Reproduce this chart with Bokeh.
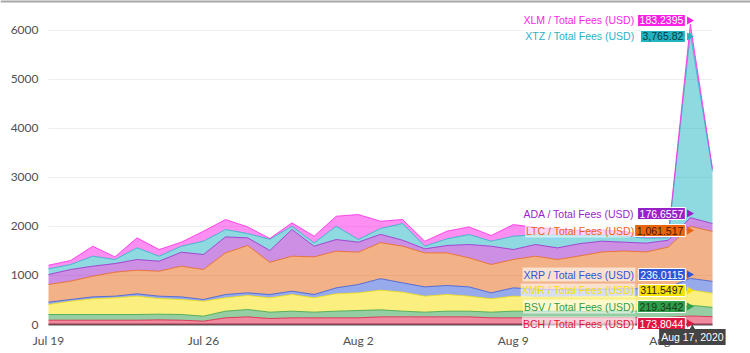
import math
from bokeh.plotting import figure
from bokeh.models import ColumnDataSource, Label, Span, Range1d
from bokeh.embed import file_html
from bokeh.resources import INLINE
from bokeh.core.properties import value

# ---------------- data ----------------
dates = ["Jul 19", "Jul 20", "Jul 21", "Jul 22", "Jul 23", "Jul 24", "Jul 25", "Jul 26",
         "Jul 27", "Jul 28", "Jul 29", "Jul 30", "Jul 31", "Aug 1", "Aug 2", "Aug 3",
         "Aug 4", "Aug 5", "Aug 6", "Aug 7", "Aug 8", "Aug 9", "Aug 10", "Aug 11",
         "Aug 12", "Aug 13", "Aug 14", "Aug 15", "Aug 16", "Aug 17", "Aug 18"]
tick_days = [0, 7, 14, 21, 28]
tick_labels = ["Jul 19", "Jul 26", "Aug 2", "Aug 9", "Aug 16"]
y_ticks = [0, 1000, 2000, 3000, 4000, 5000, 6000]
y_tick_labels = ["0", "1000", "2000", "3000", "4000", "5000", "6000"]

bch = [88, 88, 88, 88, 88, 95, 88, 68, 136, 156, 122, 136, 136, 136, 136, 156,
       156, 156, 156, 156, 136, 136, 140, 140, 140, 140, 140, 140, 145, 173.8044, 160]
bsv = [116, 116, 116, 116, 116, 116, 116, 102, 136, 150, 130, 136, 116, 136, 150, 144,
       116, 96, 116, 116, 116, 136, 130, 130, 130, 130, 135, 135, 145, 219.3442, 190]
xmr = [204, 272, 320, 340, 374, 319, 306, 306, 272, 286, 292, 340, 292, 354, 360, 400,
       388, 326, 340, 306, 272, 306, 290, 290, 300, 300, 305, 305, 310, 311.5497, 290]
xrp = [48, 34, 40, 34, 48, 48, 54, 34, 68, 54, 68, 68, 68, 122, 170, 235,
       190, 190, 184, 190, 122, 170, 160, 150, 150, 150, 150, 150, 160, 236.0115, 240]
ltc = [360, 374, 422, 490, 482, 510, 626, 612, 850, 966, 658, 714, 768, 748, 660, 735,
       748, 694, 666, 592, 578, 578, 674, 616, 680, 760, 770, 750, 820, 1061.517, 1020]
ada = [204, 238, 204, 176, 218, 204, 286, 306, 326, 156, 240, 544, 218, 238, 204, 170,
       122, 82, 150, 272, 374, 204, 238, 238, 250, 220, 180, 180, 140, 176.6557, 160]
xtz = [116, 102, 204, 82, 238, 102, 122, 272, 150, 88, 230, 68, 68, 272, 54, 120,
       340, 54, 136, 204, 102, 272, 198, 256, 160, 120, 120, 100, 50, 3765.82, 1070]
xlm = [74, 82, 204, 54, 204, 136, 82, 204, 204, 136, 15, 68, 136, 204, 510, 148,
       82, 102, 156, 156, 116, 238, 150, 130, 110, 110, 100, 60, 40, 183.2395, 50]

series_names = ["BCH", "BSV", "XMR", "XRP", "LTC", "ADA", "XTZ", "XLM"]
series_colors = ["#e0153f", "#2e9e48", "#f5e000", "#2f56d8",
                 "#e8640f", "#9b1fc9", "#1fb3c4", "#fb1ee6"]
value_text_colors = ["white", "#1a3a1a", "#222222", "white",
                     "#4a1a00", "white", "#0d3a40", "white"]
value_texts = ["173.8044", "219.3442", "311.5497", "236.0115",
               "1,061.517", "176.6557", "3,765.82", "183.2395"]
# label centre heights (data units) for the hover-style labels at Aug 17
label_y = [20, 367, 694, 1020, 1918, 2265, 5878, 6204]
hover_day = 29
hover_date_text = "Aug 17, 2020"

data = dict(x=list(range(len(dates))), BCH=bch, BSV=bsv, XMR=xmr, XRP=xrp,
            LTC=ltc, ADA=ada, XTZ=xtz, XLM=xlm)
src = ColumnDataSource(data)

# ---------------- geometry ----------------
W, H = 750, 353
plot_left, plot_right, plot_top, plot_bottom = 48, 712, 10, 324
y_max = 6408                       # value at plot_top
n_last = len(dates) - 1
px_per_day = (plot_right - plot_left) / n_last
px_per_unit = (plot_bottom - plot_top) / y_max
x_start = -plot_left / px_per_day
x_end = n_last + (W - plot_right) / px_per_day
y_start = -(H - plot_bottom) / px_per_unit
y_end = y_max + plot_top / px_per_unit

# the frame covers the whole canvas; axes are drawn as text so nothing is clipped
p = figure(width=W, height=H, output_backend="svg", toolbar_location=None,
           x_range=Range1d(x_start, x_end), y_range=Range1d(y_start, y_end),
           min_border=0)
p.background_fill_color = "white"
p.border_fill_color = "white"
p.outline_line_color = None
p.xaxis.visible = False
p.yaxis.visible = False
p.grid.visible = False

# horizontal grid lines over the plot area
p.segment(x0=[0] * len(y_ticks), x1=[n_last] * len(y_ticks), y0=y_ticks, y1=y_ticks,
          line_color="#efefef", line_width=1)
# zero line
p.segment(x0=[0], x1=[n_last], y0=[0], y1=[0], line_color="#555555", line_width=2)

p.varea_stack(stackers=series_names, x="x", color=series_colors, fill_alpha=0.5,
              source=src)
p.vline_stack(stackers=series_names, x="x", color=series_colors, line_width=1,
              line_alpha=0.75, source=src)

# y tick labels
ytick_src = ColumnDataSource(dict(x=[-10 / px_per_day] * len(y_ticks), y=y_ticks,
                                  t=y_tick_labels))
p.text(x="x", y="y", text="t", source=ytick_src, text_align="right",
       text_baseline="middle", text_font=value("Lato"), text_font_size="12px",
       text_color="#505050")

# x tick labels
xtick_src = ColumnDataSource(dict(x=tick_days, y=[-16 / px_per_unit] * len(tick_days),
                                  t=tick_labels))
p.text(x="x", y="y", text="t", source=xtick_src, text_align="center",
       text_baseline="middle", text_font=value("Lato"), text_font_size="12px",
       text_color="#505050")

# thin grey bar at the very top of the page
p.add_layout(Span(location=y_end, dimension="width", line_color="#a8a8a8",
                  line_width=4))

# arrow tips of the value boxes (pointing right at Aug 17)
p.scatter(x=[hover_day - 1 / px_per_day] * len(label_y), y=label_y, marker="triangle",
          size=8, angle=-math.pi / 2, color=series_colors, line_color=None)

# hover-style labels
for name, col, tcol, vtxt, ly in zip(series_names, series_colors, value_text_colors,
                                      value_texts, label_y):
    p.add_layout(Label(x=hover_day, y=ly, x_offset=-55, text=f"{name} / Total Fees (USD)",
                       text_align="right", text_baseline="middle",
                       text_font="Liberation Sans", text_font_size="10.5px",
                       text_color=col, background_fill_color="white",
                       background_fill_alpha=0.6, padding=1))
    p.add_layout(Label(x=hover_day, y=ly, x_offset=-5, text=vtxt,
                       text_align="right", text_baseline="middle",
                       text_font="Liberation Sans", text_font_size="10.5px",
                       text_color=tcol, background_fill_color=col,
                       background_fill_alpha=1.0, border_line_color="white",
                       border_line_width=1, padding=2))

# date tooltip under the axis with a small upward arrow
p.scatter(x=[hover_day + 2 / px_per_day], y=[-4 / px_per_unit], marker="triangle",
          size=7, color="#444444", line_color=None)
p.add_layout(Label(x=hover_day, y=-12.5 / px_per_unit, x_offset=2, text=hover_date_text,
                   text_align="center", text_baseline="middle",
                   text_font="Liberation Sans", text_font_size="10.5px",
                   text_color="white", background_fill_color="#444444",
                   background_fill_alpha=1.0, padding=2))

open("out.html", "w").write(file_html(p, INLINE))
